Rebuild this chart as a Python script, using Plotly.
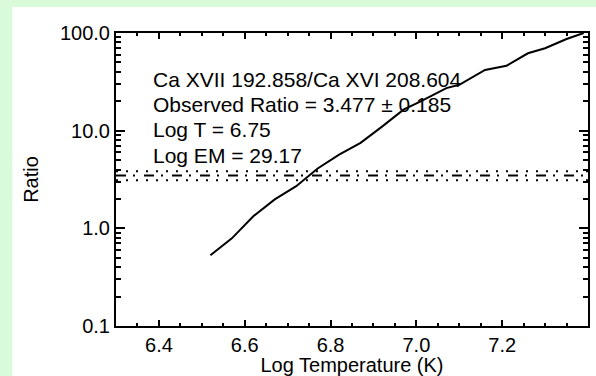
import plotly.graph_objects as go

# Ca XVII 192.858 / Ca XVI 208.604 theoretical ratio vs temperature
log_temp = [6.52, 6.57, 6.62, 6.67, 6.72, 6.77, 6.82, 6.87, 6.92, 6.97,
            7.01, 7.07, 7.10, 7.16, 7.21, 7.26, 7.30, 7.35, 7.39]
ratio = [0.53, 0.79, 1.33, 1.98, 2.70, 4.10, 5.69, 7.50, 11.0, 16.4,
         19.9, 27.3, 29.5, 41.9, 46.1, 62.0, 69.8, 86.9, 100.0]

observed_ratio = 3.477
ratio_error = 0.185
band = [observed_ratio - 2 * ratio_error, observed_ratio + 2 * ratio_error]
log_t_fit = "6.75"
log_em_fit = "29.17"

x_ticks = [6.4, 6.6, 6.8, 7.0, 7.2, 7.4]
x_tick_text = ["6.4", "6.6", "6.8", "7.0", "7.2", "7.4"]
y_ticks = [0.1, 1.0, 10.0, 100.0]
y_tick_text = ["0.1", "1.0", "10.0", "100.0"]
y_minor = [m * d for d in (0.1, 1.0, 10.0) for m in range(2, 10)]

x_range = [6.3, 7.4]
FONT = "Liberation Sans, Arial, Helvetica, sans-serif"
GREEN = "#d9fbd9"

fig = go.Figure()

fig.add_trace(go.Scatter(x=log_temp, y=ratio, mode="lines",
                         line=dict(color="black", width=2),
                         showlegend=False, hoverinfo="skip"))

# observed ratio (dash-dot) and its uncertainty band (dotted)
fig.add_trace(go.Scatter(x=x_range, y=[observed_ratio] * 2, mode="lines",
                         line=dict(color="black", width=2, dash="10px,7px,2px,9px"),
                         showlegend=False, hoverinfo="skip"))
for b in band:
    fig.add_trace(go.Scatter(x=x_range, y=[b, b], mode="lines",
                             line=dict(color="black", width=2, dash="2px,8px"),
                             showlegend=False, hoverinfo="skip"))

lines = [
    "Ca XVII 192.858/Ca XVI 208.604",
    f"Observed Ratio = {observed_ratio:.3f} \u00b1 {ratio_error:.3f}",
    f"Log T = {log_t_fit}",
    f"Log EM = {log_em_fit}",
]
for i, txt in enumerate(lines):
    fig.add_annotation(text=txt, xref="paper", yref="paper",
                       x=0.075, y=0.843 - i * 0.087,
                       xanchor="left", yanchor="middle", showarrow=False,
                       font=dict(family=FONT, size=21, color="black"))

# white panel on the green page
fig.add_shape(type="rect", xref="paper", yref="paper",
              x0=-0.2194, x1=1.2, y0=-0.4, y1=1.0887,
              fillcolor="white", line=dict(width=0), layer="below")

fig.update_xaxes(range=x_range, tickmode="array", tickvals=x_ticks, ticktext=x_tick_text,
                 ticks="inside", ticklen=6, tickcolor="black", tickwidth=2,
                 showline=True, linecolor="black", linewidth=2, mirror="allticks",
                 showgrid=False, zeroline=False,
                 tickfont=dict(family=FONT, size=20, color="black"),
                 minor=dict(ticks="inside", dtick=0.05, ticklen=3,
                            tickcolor="black", tickwidth=2),
                 title=dict(text="Log Temperature (K)", standoff=0,
                            font=dict(family=FONT, size=20, color="black")))
fig.update_yaxes(type="log", range=[-1, 2], tickmode="array", tickvals=y_ticks,
                 ticktext=y_tick_text,
                 ticks="inside", ticklen=9, tickcolor="black", tickwidth=2,
                 showline=True, linecolor="black", linewidth=2, mirror="allticks",
                 showgrid=False, zeroline=False,
                 tickfont=dict(family=FONT, size=20, color="black"),
                 minor=dict(ticks="inside", tickmode="array", tickvals=y_minor, ticklen=5,
                            tickcolor="black", tickwidth=2),
                 title=dict(text="Ratio", standoff=16,
                            font=dict(family=FONT, size=20, color="black")))

fig.update_layout(width=596, height=376,
                  margin=dict(l=116, r=6, t=33, b=40),
                  paper_bgcolor=GREEN, plot_bgcolor="white",
                  font=dict(family=FONT, color="black"))

fig.write_html("out.html")
